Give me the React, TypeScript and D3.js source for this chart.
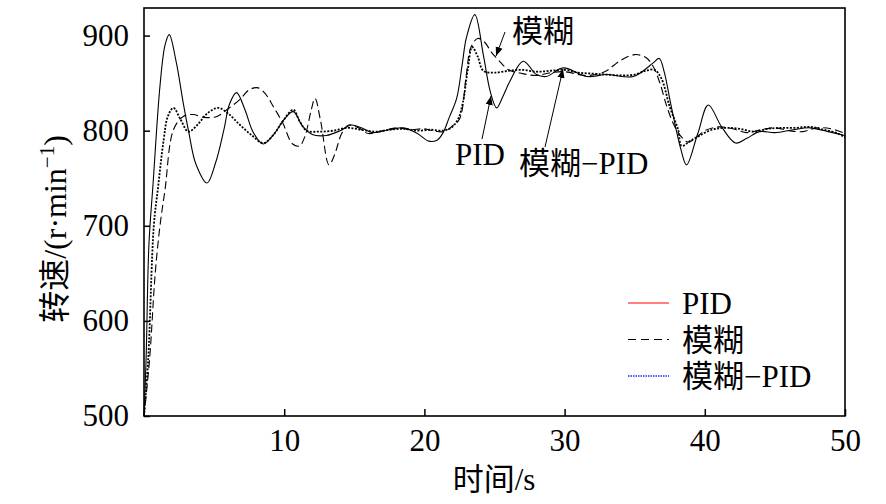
import React, { useEffect, useRef } from 'react';
import * as d3 from 'd3';

// 时间/s 与 转速 (r/min)，从图上读出的关键点
const pidData: [number, number][] = [
  [0, 500], [0.15, 560], [0.35, 680], [0.65, 745], [1.14, 847], [1.5, 890], [1.8, 901],
  [2.3, 872], [2.8, 829], [3.2, 798], [3.7, 765], [4.5, 745], [5.1, 766], [5.7, 801],
  [6.1, 828], [6.6, 840], [7.2, 822], [7.8, 798], [8.5, 786], [9.3, 797], [10.0, 812],
  [10.65, 820], [11.3, 805], [12.0, 796], [13.0, 795], [14.0, 800], [14.8, 806], [15.5, 803],
  [16.3, 798], [17.5, 801], [18.5, 803], [19.5, 797], [20.3, 789], [20.9, 790], [21.3, 797],
  [21.8, 815], [22.3, 834], [22.7, 870], [23.0, 898], [23.6, 922], [24.2, 880], [24.7, 841],
  [25.15, 824], [25.6, 836], [26.1, 852], [27.05, 873], [28.0, 859], [28.7, 857], [29.9, 866],
  [31.6, 857], [33.0, 859], [34.9, 857], [36.3, 871], [36.75, 876], [37.1, 862], [37.6, 826],
  [38.3, 780], [38.7, 764], [39.5, 797], [40.25, 827], [41.2, 804], [42.2, 787], [43.0, 792],
  [43.9, 799], [45.0, 798], [46.3, 801], [47.5, 803], [48.8, 799], [50, 795],
];

const fuzzyData: [number, number][] = [
  [0, 500], [0.4, 560], [0.8, 650], [1.14, 700], [1.5, 738], [2.1, 801], [2.8, 815],
  [3.5, 817], [4.3, 814], [5.2, 815], [6.0, 823], [6.85, 833], [7.5, 843], [8.15, 845],
  [8.7, 838], [9.2, 826], [9.9, 808], [10.6, 786], [11.1, 784], [11.5, 795], [11.9, 820],
  [12.2, 834], [12.6, 810], [13.2, 764], [13.6, 775], [14.1, 797], [14.6, 806], [15.3, 803],
  [16.0, 797], [17.0, 800], [18.0, 803], [19.0, 801], [19.9, 802], [20.6, 800], [21.4, 799],
  [22.0, 805], [22.5, 812], [23.0, 860], [23.3, 887], [23.8, 897], [24.3, 893], [24.8, 882],
  [25.3, 874], [26.0, 864], [27.0, 860], [28.0, 858], [29.0, 861], [30.0, 862], [31.5, 858],
  [32.5, 860], [33.0, 863], [34.0, 874], [35.0, 880], [35.8, 877], [36.3, 868], [36.8, 850],
  [37.3, 825], [37.8, 806], [38.3, 794], [38.8, 788], [39.4, 793], [40.0, 800], [41.0, 804],
  [42.0, 802], [43.0, 798], [44.0, 801], [45.0, 803], [46.0, 800], [47.0, 799], [48.0, 803],
  [49.0, 802], [50, 797],
];

const fuzzyPidData: [number, number][] = [
  [0, 500], [0.3, 560], [0.7, 700], [1.0, 740], [1.4, 790], [1.7, 815], [2.1, 824],
  [2.6, 812], [3.16, 799], [3.8, 806], [4.5, 818], [5.3, 824], [6.0, 818], [6.85, 806],
  [7.7, 795], [8.5, 787], [9.2, 795], [9.9, 810], [10.65, 822], [11.1, 810], [11.6, 800],
  [12.5, 799], [13.5, 800], [14.5, 803], [15.5, 801], [16.5, 799], [17.5, 801], [18.5, 802],
  [19.5, 800], [20.5, 801], [21.3, 800], [21.9, 803], [22.4, 812], [22.75, 830], [23.1, 865],
  [23.4, 888], [23.8, 878], [24.2, 863], [25, 861], [26, 863], [27, 864], [28, 862],
  [29, 863], [30, 864], [31, 861], [32, 860], [33, 859], [34, 858], [35, 859], [35.8, 863],
  [36.4, 864], [36.9, 855], [37.5, 825], [38.1, 801], [38.35, 784], [39.05, 790], [40.5, 801],
  [41.5, 803], [42.5, 802], [43.5, 799], [44.5, 802], [45.5, 803], [46.5, 803], [47.5, 804],
  [48.5, 801], [49.5, 797], [50, 793],
];

const xTicks = [10, 20, 30, 40, 50];
const yTicks = [500, 600, 700, 800, 900];
const seriesNames = ['PID', '模糊', '模糊−PID'];

const FONT = "'Liberation Serif', 'Times New Roman', 'Noto Sans CJK SC', serif";

export default () => {
  const svgRef = useRef<SVGSVGElement>(null);

  useEffect(() => {
    if (!svgRef.current) {
      return;
    }
    const svg = d3.select(svgRef.current);
    svg.selectAll('*').remove();

    const x = d3.scaleLinear().domain([0, 50]).range([144, 845]);
    const y = d3.scaleLinear().domain([500, 929]).range([416, 8]);

    const defs = svg.append('defs');
    defs.append('marker')
      .attr('id', 'arr')
      .attr('viewBox', '0 0 10 10')
      .attr('refX', 10)
      .attr('refY', 5)
      .attr('markerWidth', 9)
      .attr('markerHeight', 9)
      .attr('markerUnits', 'userSpaceOnUse')
      .attr('orient', 'auto')
      .append('path')
      .attr('d', 'M0,1 L10,5 L0,9 z')
      .attr('fill', '#000');

    const line = d3.line<[number, number]>()
      .x((d) => x(d[0]))
      .y((d) => y(d[1]))
      .curve(d3.curveCatmullRom.alpha(0.5));

    const plot = svg.append('g');
    plot.append('path')
      .attr('d', line(fuzzyData))
      .attr('fill', 'none')
      .attr('stroke', '#000')
      .attr('stroke-width', 1.1)
      .attr('stroke-dasharray', '8,4');
    plot.append('path')
      .attr('d', line(fuzzyPidData))
      .attr('fill', 'none')
      .attr('stroke', '#000')
      .attr('stroke-width', 1.8)
      .attr('stroke-dasharray', '2,1.5');
    plot.append('path')
      .attr('d', line(pidData))
      .attr('fill', 'none')
      .attr('stroke', '#000')
      .attr('stroke-width', 1.1);

    // 坐标轴
    const xAxis = svg.append('g')
      .attr('transform', 'translate(0,416)')
      .call(d3.axisBottom(x).tickValues(xTicks).tickSizeInner(-7).tickSizeOuter(0).tickPadding(13));
    const yAxis = svg.append('g')
      .attr('transform', 'translate(144,0)')
      .call(d3.axisLeft(y).tickValues(yTicks).tickSizeInner(-6).tickSizeOuter(0).tickPadding(15));
    [xAxis, yAxis].forEach((a) => {
      a.select('.domain').remove();
      a.selectAll('line').attr('stroke', '#000').attr('stroke-width', 1.5);
      a.selectAll('text')
        .attr('font-family', FONT)
        .attr('font-size', 31)
        .attr('fill', '#000');
    });

    svg.append('rect')
      .attr('x', 144)
      .attr('y', 8)
      .attr('width', 701)
      .attr('height', 408)
      .attr('fill', 'none')
      .attr('stroke', '#000')
      .attr('stroke-width', 1.6);

    // 轴标题
    svg.append('text')
      .attr('x', 494)
      .attr('y', 490)
      .attr('text-anchor', 'middle')
      .attr('font-family', FONT)
      .attr('font-size', 31)
      .text('时间/s');

    const yl = svg.append('text')
      .attr('transform', 'translate(66,229) rotate(-90)')
      .attr('text-anchor', 'middle')
      .attr('font-family', FONT)
      .attr('font-size', 32);
    yl.append('tspan').text('转速/(r·min');
    yl.append('tspan').attr('font-size', 21).attr('dy', -12).text('−1');
    yl.append('tspan').attr('dy', 12).text(')');

    // 标注
    const notes = [
      { label: '模糊', tx: 512, ty: 42, from: [505, 32], to: [496, 56] },
      { label: 'PID', tx: 455, ty: 165, from: [482, 139], to: [491, 96] },
      { label: '模糊−PID', tx: 519, ty: 174, from: [545, 147], to: [563, 69] },
    ];
    notes.forEach((n) => {
      svg.append('line')
        .attr('x1', n.from[0]).attr('y1', n.from[1])
        .attr('x2', n.to[0]).attr('y2', n.to[1])
        .attr('stroke', '#000')
        .attr('stroke-width', 1)
        .attr('marker-end', 'url(#arr)');
      svg.append('text')
        .attr('x', n.tx)
        .attr('y', n.ty)
        .attr('font-family', FONT)
        .attr('font-size', 31)
        .text(n.label);
    });

    // 图例
    const legendStyles = [
      { color: '#ff0000', dash: null, width: 1 },
      { color: '#000', dash: '8,5', width: 1 },
      { color: '#1030ff', dash: '1.5,1', width: 1.6 },
    ];
    const legend = svg.append('g');
    seriesNames.forEach((name, i) => {
      const ly = 303 + i * 36.5;
      const s = legendStyles[i];
      legend.append('line')
        .attr('x1', 628).attr('x2', 669)
        .attr('y1', ly).attr('y2', ly)
        .attr('stroke', s.color)
        .attr('stroke-width', s.width)
        .attr('stroke-dasharray', s.dash);
      legend.append('text')
        .attr('x', 682)
        .attr('y', ly + 11)
        .attr('font-family', FONT)
        .attr('font-size', 31)
        .text(name);
    });
  }, []);

  return (
    <svg
      ref={svgRef}
      width={886}
      height={504}
      style={{ position: 'absolute', left: 0, top: 0, background: '#fff' }}
    />
  );
};
